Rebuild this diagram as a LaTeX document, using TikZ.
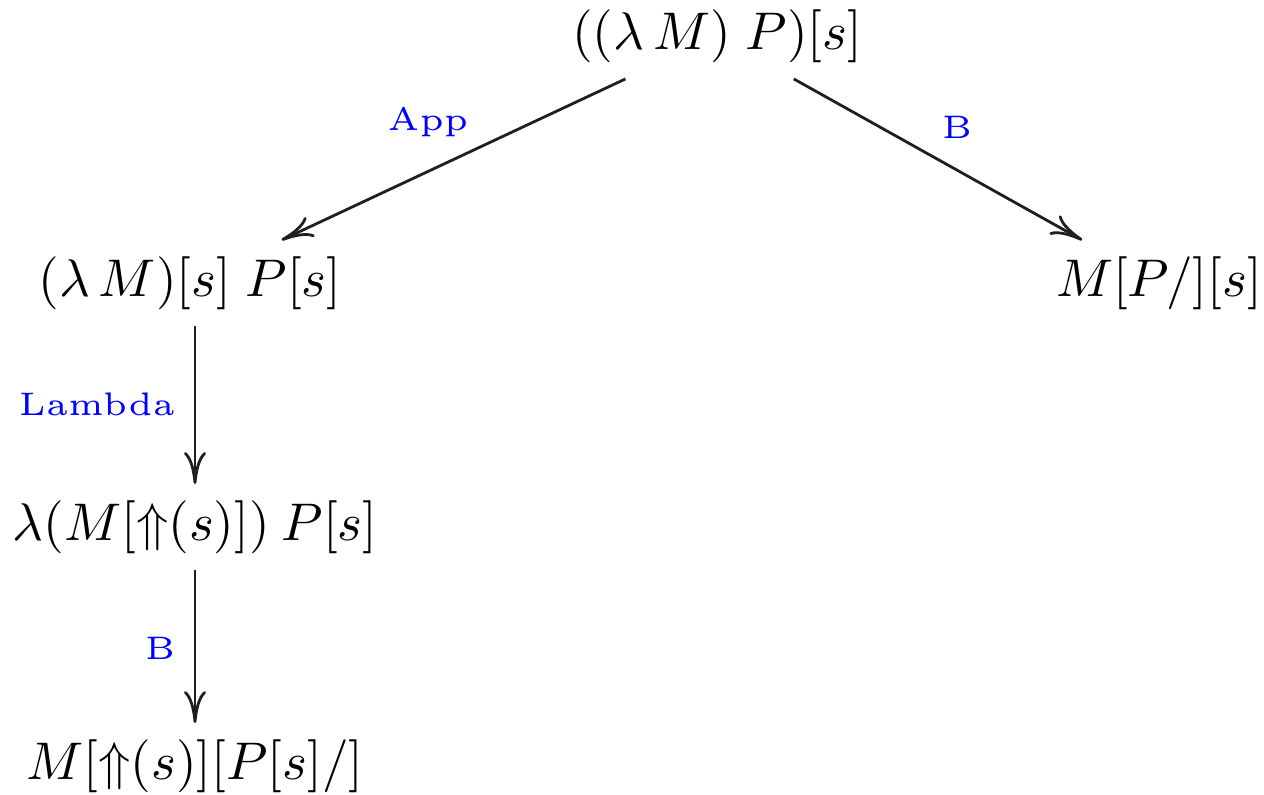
\documentclass[tikz,border=0pt]{standalone}
\usetikzlibrary{arrows.meta}
\begin{document}
\begin{tikzpicture}[x=0.25pt,y=-0.25pt,
  term/.style={scale=1.325,inner sep=2.9pt,font=\normalsize},
  lab/.style={scale=1.63,inner sep=0pt,font=\tiny,text=blue},
  arr/.style={line width=0.7pt,draw=black!88,-{To[length=8pt,width=5.5pt]}}]
\useasboundingbox (0,0) rectangle (1264,794);
\node[term] (t) at (717,36) {$((\lambda\,M)\;P)[s]$};
\node[term] (l1) at (190,283) {$(\lambda\,M)[s]\;P[s]$};
\node[term] (r1) at (1159,283) {$M[P/][s]$};
\node[term] (l2) at (195,527) {$\lambda(M[\mathord{\Uparrow}(s)])\:P[s]$};
\node[term] (l3) at (195,766) {$M[\mathord{\Uparrow}(s)][P[s]/]$};
\draw[arr] (t) -- (l1);
\draw[arr] (t) -- (r1);
\draw[arr] (l1.south -| 195,0) -- (l2.north -| 195,0);
\draw[arr] (l2.south -| 195,0) -- (l3.north -| 195,0);
\node[lab] (a) at (428,122) {App};
\node[lab] (b) at (957,127) {B};
\node[lab] (c) at (97,404) {Lambda};
\node[lab] (d) at (160,648) {B};
\end{tikzpicture}
\end{document}
